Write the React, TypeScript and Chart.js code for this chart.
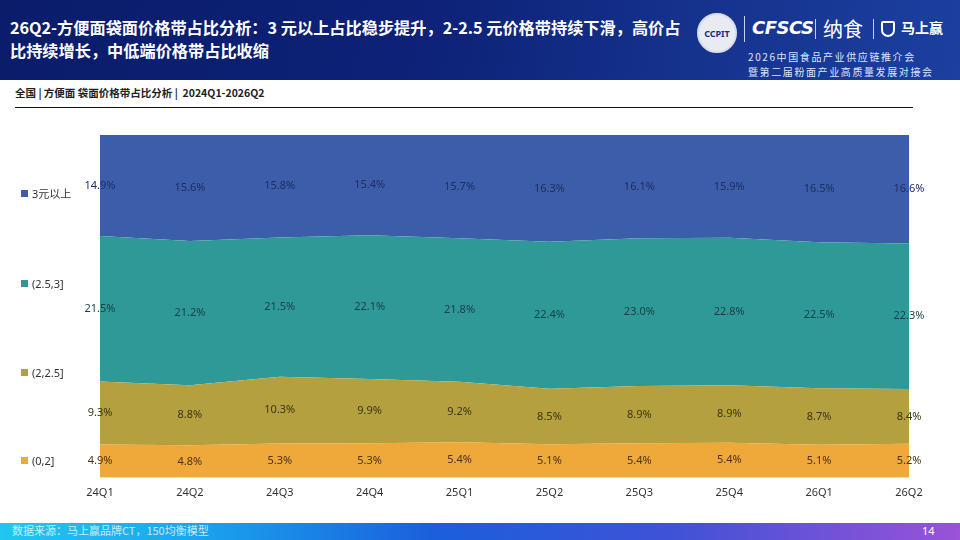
import { useEffect, useRef } from "react"
import { Chart, registerables, type ChartConfiguration, type Plugin } from "chart.js"

Chart.register(...registerables)

const quarters = ["24Q1", "24Q2", "24Q3", "24Q4", "25Q1", "25Q2", "25Q3", "25Q4", "26Q1", "26Q2"]

// raw shares as printed on the chart (bottom band first)
const band0to2 = [4.9, 4.8, 5.3, 5.3, 5.4, 5.1, 5.4, 5.4, 5.1, 5.2]
const band2to25 = [9.3, 8.8, 10.3, 9.9, 9.2, 8.5, 8.9, 8.9, 8.7, 8.4]
const band25to3 = [21.5, 21.2, 21.5, 22.1, 21.8, 22.4, 23.0, 22.8, 22.5, 22.3]
const band3plus = [14.9, 15.6, 15.8, 15.4, 15.7, 16.3, 16.1, 15.9, 16.5, 16.6]

const bandNames = ["(0,2]", "(2,2.5]", "(2.5,3]", "3元以上"]
const bandColors = ["#EFA83A", "#B5A03F", "#2E9996", "#3C5DAA"]
const labelColors = ["#4a3414", "#3d3514", "#173f4a", "#1d2f63"]

const FONT = '"Noto Sans", "Noto Sans CJK SC", sans-serif'

// the plot is drawn at 100% height, labels keep the raw values
const bands = [band0to2, band2to25, band25to3, band3plus]
const totals = quarters.map((_, i) => bands.reduce((s, b) => s + b[i], 0))

const bandLabels: Plugin<"line"> = {
  id: "bandLabels",
  afterDatasetsDraw(chart) {
    const { ctx, chartArea } = chart
    ctx.save()
    ctx.font = `11px ${FONT}`
    ctx.textAlign = "center"
    ctx.textBaseline = "middle"
    chart.data.datasets.forEach((_, di) => {
      const meta = chart.getDatasetMeta(di)
      const below = di > 0 ? chart.getDatasetMeta(di - 1) : null
      meta.data.forEach((pt, i) => {
        const top = pt.y
        const bottom = below ? below.data[i].y : chartArea.bottom
        ctx.fillStyle = labelColors[di]
        ctx.fillText(bands[di][i].toFixed(1) + "%", pt.x, (top + bottom) / 2)
      })
    })
    ctx.restore()
  },
}

const PriceBandChart = () => {
  const canvasRef = useRef<HTMLCanvasElement>(null)

  useEffect(() => {
    if (!canvasRef.current) return

    const config: ChartConfiguration<"line"> = {
      type: "line",
      data: {
        labels: quarters,
        datasets: bands.map((b, di) => ({
          label: bandNames[di],
          data: b.map((v, i) => (v / totals[i]) * 100),
          backgroundColor: bandColors[di],
          borderColor: bandColors[di],
          borderWidth: 0,
          pointRadius: 0,
          tension: 0,
          fill: di === 0 ? "origin" : "-1",
        })),
      },
      options: {
        animation: false,
        responsive: false,
        maintainAspectRatio: false,
        layout: { padding: { left: 100, right: 51, top: 25, bottom: 0 } },
        plugins: { legend: { display: false }, tooltip: { enabled: false } },
        scales: {
          x: {
            offset: false,
            grid: { display: false, drawTicks: false },
            border: { display: false },
            ticks: { color: "#333", font: { family: FONT, size: 11 }, padding: 8, maxRotation: 0 },
          },
          y: {
            stacked: true,
            display: false,
            min: 0,
            max: 100,
          },
        },
      },
      plugins: [bandLabels],
    }

    const chart = new Chart(canvasRef.current, config)
    return () => chart.destroy()
  }, [])

  return <canvas ref={canvasRef} width={960} height={397} style={{ position: "absolute", left: 0, top: 110 }} />
}

const legendRows = [
  { name: "3元以上", color: bandColors[3], y: 193 },
  { name: "(2.5,3]", color: bandColors[2], y: 283 },
  { name: "(2,2.5]", color: bandColors[1], y: 372 },
  { name: "(0,2]", color: bandColors[0], y: 460 },
]

export default function App() {
  return (
    <div
      style={{
        position: "fixed",
        left: 0,
        top: 0,
        width: 960,
        height: 540,
        background: "#fff",
        overflow: "hidden",
        fontFamily: FONT,
      }}
    >
      {/* header band */}
      <div
        style={{
          position: "absolute",
          left: 0,
          top: 0,
          width: 960,
          height: 80,
          background: "linear-gradient(100deg, #0a1c6a 0%, #0d2278 45%, #16348f 75%, #1c3fa0 100%)",
        }}
      />
      <div
        style={{
          position: "absolute",
          left: 10,
          top: 16,
          color: "#fff",
          fontWeight: 700,
          fontSize: 16.2,
          lineHeight: "23px",
          fontFamily: '"Noto Sans CJK SC", sans-serif',
        }}
      >
        26Q2-方便面袋面价格带占比分析：3 元以上占比稳步提升，2-2.5 元价格带持续下滑，高价占
        <br />
        比持续增长，中低端价格带占比收缩
      </div>

      {/* logos */}
      <div
        style={{
          position: "absolute",
          left: 697,
          top: 13,
          width: 40,
          height: 40,
          borderRadius: "50%",
          border: "2px solid #d8dce8",
          color: "#1a2f80",
          background: "#e8ebf2",
          fontSize: 9,
          fontWeight: 700,
          display: "flex",
          alignItems: "center",
          justifyContent: "center",
          boxSizing: "border-box",
        }}
      >
        CCPIT
      </div>
      <div style={{ position: "absolute", left: 744, top: 16, width: 1, height: 26, background: "#c8d0ea" }} />
      <div
        style={{
          position: "absolute",
          left: 752,
          top: 17,
          color: "#fff",
          fontSize: 18,
          fontWeight: 700,
          fontStyle: "italic",
          fontFamily: '"DejaVu Sans", sans-serif',
          letterSpacing: -0.5,
        }}
      >
        CFSCS
      </div>
      <div style={{ position: "absolute", left: 815, top: 19, width: 1, height: 20, background: "#c8d0ea" }} />
      <div
        style={{
          position: "absolute",
          left: 823,
          top: 14,
          color: "#fff",
          fontSize: 20,
          fontFamily: '"Noto Sans CJK SC", sans-serif',
        }}
      >
        纳食
      </div>
      <div style={{ position: "absolute", left: 873, top: 19, width: 1, height: 20, background: "#c8d0ea" }} />
      <div
        style={{
          position: "absolute",
          left: 881,
          top: 17,
          color: "#fff",
          fontSize: 14,
          fontWeight: 700,
          fontFamily: '"Noto Sans CJK SC", sans-serif',
        }}
      >
        <span
          style={{
            display: "inline-block",
            width: 14,
            height: 16,
            border: "2px solid #fff",
            borderRadius: "2px 2px 8px 8px",
            boxSizing: "border-box",
            marginRight: 6,
            verticalAlign: "middle",
          }}
        />
        马上赢
      </div>
      <div
        style={{
          position: "absolute",
          left: 748,
          top: 49,
          color: "#dfe5ff",
          fontSize: 10,
          lineHeight: "15px",
          letterSpacing: 1.6,
          fontFamily: '"Noto Sans CJK SC", sans-serif',
        }}
      >
        2026中国食品产业供应链推介会
        <br />
        暨第二届粉面产业高质量发展对接会
      </div>

      {/* subtitle */}
      <div
        style={{
          position: "absolute",
          left: 15,
          top: 85,
          fontSize: 10.5,
          fontWeight: 700,
          color: "#222",
          fontFamily: '"Noto Sans CJK SC", sans-serif',
          whiteSpace: "pre",
        }}
      >
        {"全国 | 方便面 袋面价格带占比分析 |  2024Q1-2026Q2"}
      </div>
      <div style={{ position: "absolute", left: 15, top: 107, width: 898, height: 1, background: "#111" }} />

      <PriceBandChart />

      {/* legend */}
      {legendRows.map((r) => (
        <div
          key={r.name}
          style={{
            position: "absolute",
            left: 21,
            top: r.y - 8,
            height: 16,
            display: "flex",
            alignItems: "center",
            fontSize: 11,
            color: "#333",
          }}
        >
          <span style={{ width: 7, height: 7, background: r.color, marginRight: 4, display: "inline-block" }} />
          {r.name}
        </div>
      ))}

      {/* footer */}
      <div
        style={{
          position: "absolute",
          left: 0,
          top: 523,
          width: 960,
          height: 17,
          background: "linear-gradient(90deg, #22c6f0 0%, #1aa6ee 20%, #1a5fdc 45%, #3f52d6 70%, #9a52d8 100%)",
        }}
      />
      <div
        style={{
          position: "absolute",
          left: 12,
          top: 522,
          fontSize: 11,
          color: "rgba(255,255,255,0.75)",
          fontFamily: '"Noto Sans CJK SC", sans-serif',
        }}
      >
        数据来源：马上赢品牌CT，150均衡模型
      </div>
      <div style={{ position: "absolute", left: 922, top: 523, fontSize: 11, color: "#fff" }}>14</div>
    </div>
  )
}
